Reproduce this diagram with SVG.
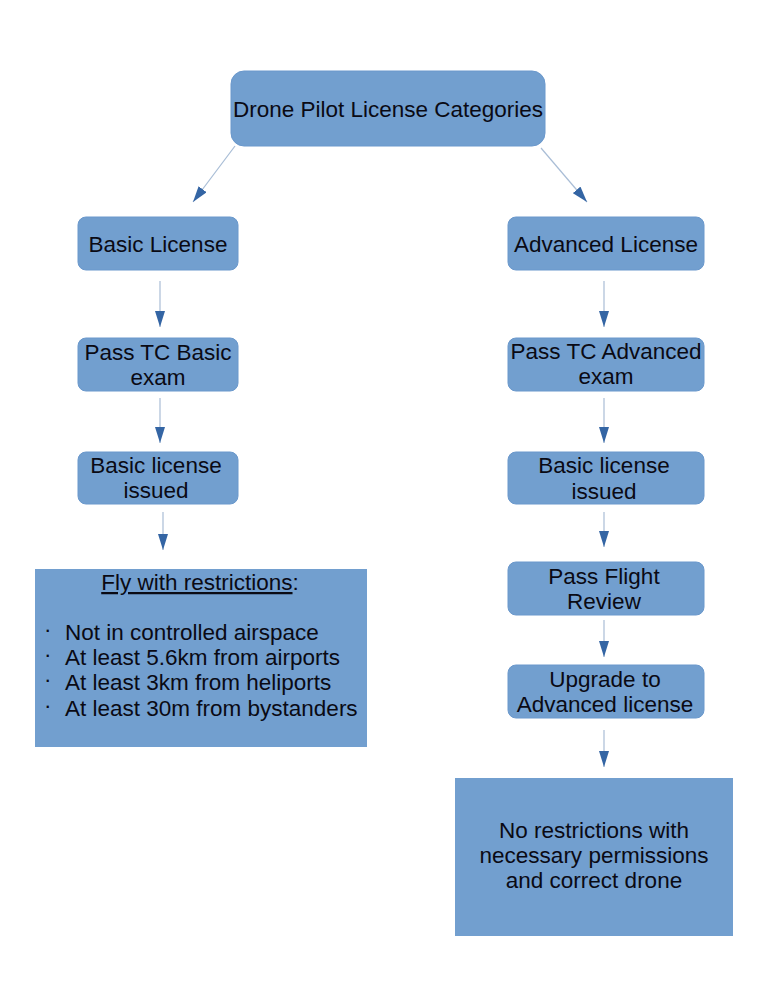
<svg xmlns="http://www.w3.org/2000/svg" width="768" height="994" viewBox="0 0 768 994">
<style>
.n{fill:#729fcf;stroke:#6a98cc;stroke-width:1}
.t{font-family:"Liberation Sans",Arial,sans-serif;font-size:22.5px;fill:#0a0a14;text-anchor:middle}
.l{font-family:"Liberation Sans",Arial,sans-serif;font-size:22.5px;fill:#0a0a14}
.c{stroke:#a9bdd6;stroke-width:1.2;fill:none;marker-end:url(#ah)}
</style>
<defs>
<marker id="ah" viewBox="0 0 16 10" refX="16" refY="5" markerWidth="16" markerHeight="10" markerUnits="userSpaceOnUse" orient="auto">
<path d="M0,0 L16,5 L0,10 z" fill="#3465a4"/>
</marker>
</defs>
<rect width="768" height="994" fill="#ffffff"/>
<g id="connectors">
<line class="c" x1="235" y1="146" x2="193" y2="202"/>
<line class="c" x1="541" y1="148" x2="587" y2="202"/>
<line class="c" x1="160" y1="281" x2="160" y2="327"/>
<line class="c" x1="160" y1="398" x2="160" y2="443"/>
<line class="c" x1="163" y1="512" x2="163" y2="550"/>
<line class="c" x1="604" y1="281" x2="604" y2="327"/>
<line class="c" x1="604" y1="398" x2="604" y2="443"/>
<line class="c" x1="604" y1="512" x2="604" y2="547"/>
<line class="c" x1="604" y1="620" x2="604" y2="657"/>
<line class="c" x1="604" y1="730" x2="604" y2="767"/>
</g>
<g id="root">
<rect class="n" x="231" y="71" width="314" height="75" rx="13"/>
<text class="t" x="388" y="117">Drone Pilot License Categories</text>
</g>
<g id="basic">
<rect class="n" x="78" y="217" width="160" height="53" rx="8"/>
<text class="t" x="158" y="252">Basic License</text>
</g>
<g id="passBasic">
<rect class="n" x="78" y="338" width="160" height="53" rx="8"/>
<text class="t" x="158" y="360">Pass TC Basic</text>
<text class="t" x="158" y="385">exam</text>
</g>
<g id="basicIssuedL">
<rect class="n" x="78" y="452" width="160" height="52" rx="8"/>
<text class="t" x="156" y="473">Basic license</text>
<text class="t" x="156" y="498">issued</text>
</g>
<g id="fly">
<rect x="35" y="569" width="332" height="178" fill="#729fcf"/>
<text class="t" x="200" y="590"><tspan text-decoration="underline">Fly with restrictions</tspan>:</text>
<text class="l" x="44" y="637">·</text>
<text class="l" x="44" y="662">·</text>
<text class="l" x="44" y="687">·</text>
<text class="l" x="44" y="713">·</text>
<text class="l" x="65" y="640">Not in controlled airspace</text>
<text class="l" x="65" y="665">At least 5.6km from airports</text>
<text class="l" x="65" y="690">At least 3km from heliports</text>
<text class="l" x="65" y="716">At least 30m from bystanders</text>
</g>
<g id="advanced">
<rect class="n" x="508" y="217" width="196" height="53" rx="8"/>
<text class="t" x="606" y="252">Advanced License</text>
</g>
<g id="passAdv">
<rect class="n" x="508" y="338" width="196" height="53" rx="8"/>
<text class="t" x="606" y="359">Pass TC Advanced</text>
<text class="t" x="606" y="384">exam</text>
</g>
<g id="basicIssuedR">
<rect class="n" x="508" y="452" width="196" height="52" rx="8"/>
<text class="t" x="604" y="473">Basic license</text>
<text class="t" x="604" y="499">issued</text>
</g>
<g id="flightReview">
<rect class="n" x="508" y="562" width="196" height="53" rx="8"/>
<text class="t" x="604" y="584">Pass Flight</text>
<text class="t" x="604" y="609">Review</text>
</g>
<g id="upgrade">
<rect class="n" x="508" y="665" width="196" height="53" rx="8"/>
<text class="t" x="605" y="687">Upgrade to</text>
<text class="t" x="605" y="712">Advanced license</text>
</g>
<g id="noRestrictions">
<rect x="455" y="778" width="278" height="158" fill="#729fcf"/>
<text class="t" x="594" y="838">No restrictions with</text>
<text class="t" x="594" y="863">necessary permissions</text>
<text class="t" x="594" y="888">and correct drone</text>
</g>
</svg>
